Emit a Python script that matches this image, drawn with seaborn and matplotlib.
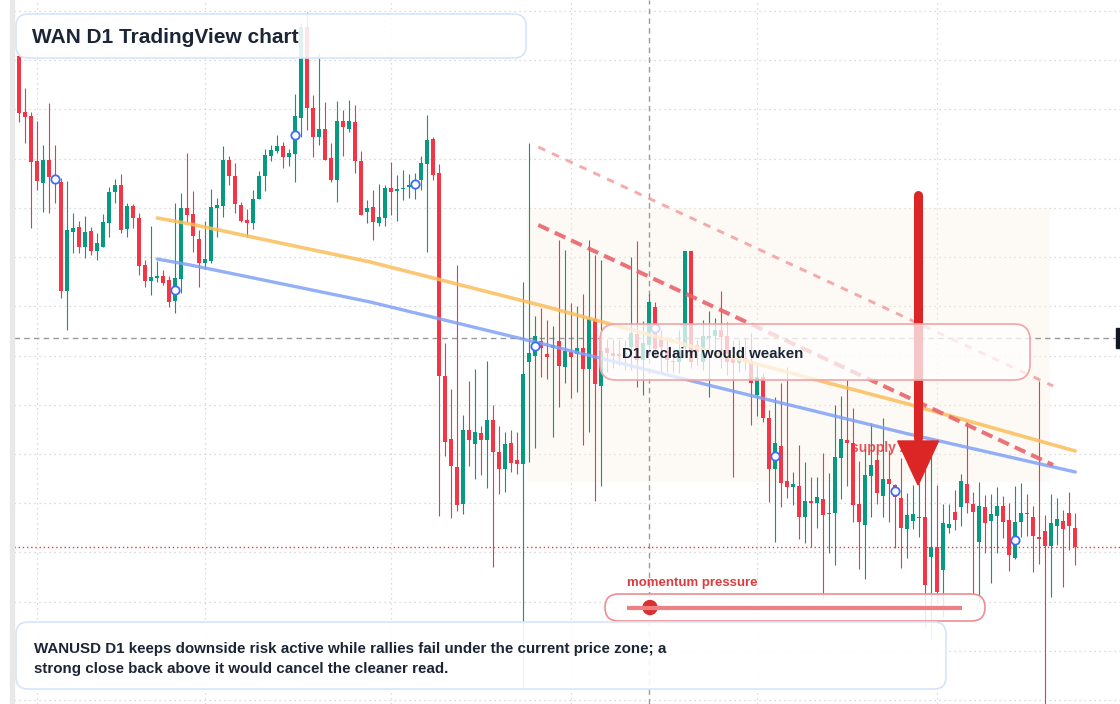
import matplotlib
matplotlib.use('Agg')
import matplotlib.pyplot as plt
import matplotlib.dates as mdates
from matplotlib.patches import FancyBboxPatch, Rectangle, Polygon, Circle
import seaborn as sns
import numpy as np
import pandas as pd

# WANUSD daily candles, prices in units of 0.0001 USD
start = '2025-01-28'
opens = [950, 944, 888, 884, 839, 817, 840, 823, 818, 709,
         768, 773, 753, 769, 749, 753, 777, 808, 815, 771,
         794, 782, 735, 719, 722, 724, 720, 699, 721, 792,
         786, 761, 737, 739, 792, 794, 840, 824, 795, 780,
         777, 801, 824, 844, 849, 854, 843, 846, 882, 973,
         892, 863, 871, 842, 820, 879, 871, 878, 839, 788,
         793, 777, 782, 812, 809, 811, 813, 814, 820, 836,
         861, 827, 624, 561, 533, 496, 570, 556, 567, 560,
         580, 548, 531, 557, 540, 536, 638, 644, 659, 646,
         652, 659, 633, 648, 646, 652, 631, 681, 614, 652,
         647, 646, 645, 653, 666, 640, 655, 693, 660, 650,
         639, 638, 653, 749, 655, 638, 662, 664, 670, 664,
         642, 637, 642, 638, 605, 623, 582, 531, 554, 519,
         513, 514, 483, 499, 497, 501, 486, 487, 542, 560,
         557, 496, 475, 524, 540, 504, 521, 515, 502, 471,
         479, 482, 483, 443, 453, 430, 472, 488, 493, 516,
         496, 458, 493, 479, 484, 494, 480, 442, 478, 487,
         483, 463, 469, 454, 474, 479, 487, 472]
highs = [952, 945, 912, 888, 879, 855, 897, 855, 822, 819,
         787, 779, 784, 773, 767, 786, 813, 821, 826, 797,
         796, 787, 740, 774, 739, 730, 724, 797, 807, 847,
         809, 770, 779, 811, 802, 854, 844, 837, 798, 791,
         810, 829, 851, 855, 865, 858, 851, 906, 977, 988,
         905, 947, 898, 857, 899, 890, 900, 895, 849, 800,
         810, 816, 815, 838, 825, 830, 826, 827, 844, 885,
         863, 836, 657, 611, 735, 585, 619, 631, 574, 639,
         595, 574, 568, 570, 568, 718, 857, 684, 692, 680,
         674, 760, 750, 697, 694, 706, 760, 745, 740, 661,
         661, 660, 660, 743, 759, 679, 706, 698, 670, 660,
         650, 670, 749, 749, 660, 680, 689, 682, 709, 678,
         660, 660, 662, 667, 637, 627, 590, 603, 617, 633,
         528, 555, 538, 523, 523, 547, 527, 595, 604, 620,
         592, 539, 551, 577, 550, 582, 550, 516, 542, 507,
         515, 517, 548, 547, 515, 496, 496, 510, 526, 578,
         508, 518, 505, 506, 513, 504, 497, 514, 517, 506,
         494, 619, 485, 506, 502, 490, 508, 487]
lows = [942, 878, 857, 772, 810, 788, 787, 797, 702, 670,
        747, 747, 742, 745, 740, 753, 763, 797, 767, 763,
        772, 725, 713, 705, 718, 715, 693, 687, 707, 778,
        748, 713, 731, 737, 763, 783, 815, 787, 778, 763,
        771, 801, 809, 839, 847, 832, 834, 818, 863, 870,
        843, 855, 840, 818, 798, 844, 868, 827, 785, 777,
        760, 774, 774, 785, 779, 800, 802, 801, 810, 748,
        820, 484, 544, 482, 489, 486, 534, 521, 525, 512,
        433, 506, 508, 528, 526, 312, 538, 552, 623, 621,
        563, 593, 617, 602, 608, 555, 568, 499, 514, 628,
        632, 635, 630, 630, 613, 605, 645, 642, 628, 628,
        628, 627, 650, 632, 635, 630, 603, 650, 632, 625,
        523, 628, 630, 575, 584, 578, 498, 458, 493, 502,
        495, 461, 457, 453, 472, 402, 447, 435, 501, 514,
        478, 431, 421, 483, 496, 483, 478, 452, 432, 442,
        471, 463, 373, 361, 397, 383, 467, 470, 474, 487,
        406, 398, 447, 417, 447, 462, 429, 441, 463, 464,
        428, 436, 290, 403, 455, 413, 450, 435]
closes = [944, 887, 883, 838, 819, 840, 823, 819, 709, 770,
          772, 753, 768, 749, 757, 778, 808, 815, 770, 794,
          782, 734, 719, 723, 724, 717, 698, 722, 792, 785,
          764, 737, 741, 793, 795, 840, 824, 796, 779, 777,
          801, 824, 845, 850, 854, 843, 847, 884, 973, 892,
          863, 871, 840, 820, 879, 873, 879, 839, 785, 792,
          778, 783, 812, 808, 811, 812, 815, 819, 837, 860,
          825, 624, 558, 534, 495, 570, 560, 568, 560, 580,
          548, 531, 556, 537, 536, 626, 647, 664, 652, 643,
          655, 634, 649, 643, 652, 631, 681, 616, 649, 647,
          644, 644, 647, 667, 640, 657, 698, 651, 653, 640,
          638, 650, 749, 638, 648, 664, 664, 670, 663, 638,
          637, 642, 638, 617, 623, 582, 531, 557, 517, 513,
          516, 483, 499, 497, 503, 485, 487, 543, 561, 557,
          495, 478, 525, 535, 507, 521, 516, 503, 472, 485,
          486, 483, 415, 453, 408, 477, 476, 480, 519, 497,
          488, 494, 477, 486, 494, 478, 445, 478, 487, 486,
          464, 461, 454, 477, 481, 471, 474, 453]

# drawn lines: day offset from start, price
orange_days = [24, 29.5, 59.5, 89, 129.5, 148.5, 177]
orange_vals = [782, 776, 738, 693, 627, 597, 549]
blue_days = [24, 29.5, 59.5, 89, 118.5, 148.5, 177]
blue_vals = [741, 735, 698, 655, 611, 567, 528]
channel_days = [87.5, 173.3]
channel_low = [775, 535]
channel_high = [853, 614]
crosshair_day, crosshair_price = 106, 662

GREEN = '#089981'
RED = '#f23645'
INK = '#1c2536'

sns.set_style('white')
plt.rcParams['font.family'] = ['Liberation Sans', 'DejaVu Sans']

o, h, l, c = (np.array(a, dtype=float) for a in (opens, highs, lows, closes))
x0 = mdates.date2num(pd.Timestamp(start))
x = x0 + np.arange(len(o))

fig = plt.figure(figsize=(11.2, 7.04), dpi=100)
fig.patches.append(Rectangle((10 / 1120, 0), 4 / 1120, 1, transform=fig.transFigure,
                             color='#e8e8e8', zorder=0))
ax = fig.add_axes([14 / 1120, 0, 1106 / 1120, 1])
ax.set_xlim(x0 + 0.117, x0 + 184.45)
ax.set_ylim(296, 1000)

# grid
ax.set_yticks(np.linspace(989, 300, 15))
ax.xaxis.set_major_locator(mdates.MonthLocator())
ax.grid(True, color='#cfcfcf', lw=0.9, ls=(0, (1, 3)))
ax.tick_params(length=0, labelbottom=False, labelleft=False)
for s in ax.spines.values():
    s.set_visible(False)

# supply zone shading
ax.add_patch(Rectangle((x0 + 85.6, 518), 87.2, 274, fc='#fcefe2', alpha=0.35, lw=0, zorder=1))

# crosshair and last price
ax.axvline(x0 + crosshair_day, color='#9a9a9a', lw=1, ls=(0, (4, 3)), zorder=2)
ax.axhline(crosshair_price, xmax=1101 / 1106, color='#9a9a9a', lw=1, ls=(0, (4, 3)), zorder=2)
ax.axhline(c[-1], color=RED, lw=1, ls=(0, (1, 2)), zorder=2)

# candles
cols = np.where(c >= o, GREEN, RED)
ax.vlines(x, l, h, colors=cols, lw=0.8, zorder=3)
ax.bar(x, np.maximum(np.abs(c - o), 1.3), bottom=np.minimum(o, c), width=0.72,
       color=cols, linewidth=0, zorder=3)

# trend lines
sns.lineplot(x=x0 + np.array(orange_days), y=orange_vals, color='#fbbd5a', alpha=0.85,
             lw=2.6, ax=ax, zorder=4)
sns.lineplot(x=x0 + np.array(blue_days), y=blue_vals, color='#7fa1f6', alpha=0.85,
             lw=2.4, ax=ax, zorder=4)
ax.plot(x0 + np.array(channel_days), channel_high, color='#f39ca0', alpha=0.85, lw=2.1,
        ls=(0, (2.6, 2.6)), zorder=4)
ax.plot(x0 + np.array(channel_days), channel_low, color='#e9646b', alpha=0.9, lw=2.9,
        ls=(0, (2.9, 1.6)), zorder=4)

ax.text(x0 + 139.6, 552, 'supply zone', color='#e0393e', fontsize=10, fontweight='bold',
        va='center', ha='left', alpha=0.85, zorder=4)

# down arrow
xa = x0 + 150.8
ax.plot([xa, xa], [805, 562], color='#dc2626', lw=6.5, solid_capstyle='round', zorder=5)
ax.add_patch(Polygon([(xa - 3.4, 559), (xa + 3.4, 559), (xa, 515)], closed=True,
                     color='#dc2626', zorder=5))

# pivot markers every 20 candles
idx = np.arange(7, len(o), 20)
sns.scatterplot(x=x[idx], y=(o[idx] + c[idx]) / 2, s=36, color='white', edgecolor='#3b6ef5',
                linewidth=1.3, zorder=6, ax=ax)

# overlay for panels
ov = fig.add_axes([0, 0, 1, 1], zorder=5)
ov.set_xlim(0, 1120)
ov.set_ylim(704, 0)
ov.axis('off')
ov.patch.set_alpha(0)


def panel(x1, y1, x2, y2, ec, alpha, r):
    ov.add_patch(FancyBboxPatch((x1, y1), x2 - x1, y2 - y1,
                                boxstyle=f'round,pad=0,rounding_size={r}',
                                fc=(1, 1, 1, alpha), ec=ec, lw=1.2))


panel(16, 14, 526, 58, '#d6e4fb', 0.88, 12)
ov.text(32, 37.5, 'WAN D1 TradingView chart', fontsize=15, fontweight='bold', color=INK,
        va='center', ha='left')

panel(600, 324, 1030, 380, '#f2a3a6', 0.74, 16)
ov.text(622, 354.5, 'D1 reclaim would weaken', fontsize=10.8, fontweight='bold', color=INK,
        va='center', ha='left')

ov.text(627, 583, 'momentum pressure', fontsize=9.5, fontweight='bold', color='#e0393e',
        va='center', ha='left')
panel(605, 594, 985, 621, '#ef8d90', 0.85, 13.5)
ov.plot([627, 962], [607.5, 607.5], color='#ee7f82', lw=3, solid_capstyle='butt')
ov.add_patch(Circle((650, 607.5), 7, color='#dc2f2f'))

panel(16, 622, 946, 689, '#d6e4fb', 0.9, 12)
ov.text(34, 648.5, 'WANUSD D1 keeps downside risk active while rallies fail under the current price zone; a',
        fontsize=10.9, fontweight='bold', color=INK, va='center', ha='left')
ov.text(34, 668.5, 'strong close back above it would cancel the cleaner read.',
        fontsize=10.9, fontweight='bold', color=INK, va='center', ha='left')

ov.add_patch(Rectangle((1116, 328), 4, 20, color='#131722'))

fig.savefig('out.png', dpi=100)
